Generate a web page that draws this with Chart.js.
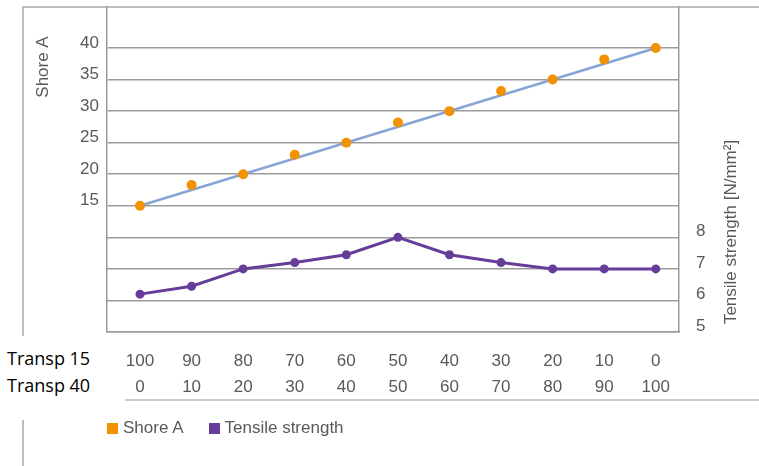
<!DOCTYPE html>
<html>
<head>
<meta charset="utf-8">
<script src="https://cdn.jsdelivr.net/npm/chart.js@4"></script>
<style>
    body { margin: 0; background: #fff; }
    #wrap { position: relative; width: 759px; height: 466px; overflow: hidden; }
    #wrap canvas { position: absolute; left: 0; top: 0; }
    .line { position: absolute; border-color: #bcbcbc; border-style: solid; border-width: 0; }
    .transp { position: absolute; left: 7px; font: 18px "Open Sans", sans-serif; line-height: 20px; color: #000; }
    #legend { position: absolute; left: 107px; top: 418px; display: flex; align-items: center;
        font: 17px "Liberation Sans", Arial, sans-serif; color: #595959; line-height: 20px; }
    #legend .item { display: flex; align-items: center; margin-right: 25px; }
    #legend .box { width: 11px; height: 11px; margin-right: 5px; }
</style>
</head>
<body>
<div id="wrap">
    <div class="line" style="left:22px; top:6px; width:737px; border-top-width:2px;"></div>
    <div class="line" style="left:22px; top:6px; height:330px; border-left-width:2px;"></div>
    <div class="line" style="left:22px; top:420px; height:46px; border-left-width:2px;"></div>
    <div class="line" style="left:125px; top:399px; width:634px; border-top-width:2px; border-color:#cacaca;"></div>
    <div class="transp" style="top:348px;">Transp 15</div>
    <div class="transp" style="top:375px;">Transp 40</div>
    <canvas id="mix-chart" width="759" height="466"></canvas>
    <div id="legend"></div>
</div>
<script>
const textColor = "#595959";
const gridColor = "#9b9b9b";
const fontFamily = '"Liberation Sans", Arial, sans-serif';

// mix ratio labels (two rows under the x axis)
const transp15 = ["100", "90", "80", "70", "60", "50", "40", "30", "20", "10", "0"];
const transp40 = ["0", "10", "20", "30", "40", "50", "60", "70", "80", "90", "100"];

const shoreA = [15, 18.3, 20, 23.1, 25, 28.2, 30, 33.2, 35, 38.2, 40];
const tensile = [6.2, 6.45, 7.0, 7.2, 7.45, 8.0, 7.45, 7.2, 7.0, 7.0, 7.0];

const shoreTicks = [15, 20, 25, 30, 35, 40];
const tensileTicks = [5, 6, 7, 8];

const orange = "#f39200";
const purple = "#663d99";
const blue = "#86a5d6";

const last = shoreA.length - 1;

// chart area is fixed by hand, so drop the label overflow padding
function noPadding(s) {
    s.paddingTop = 0;
    s.paddingBottom = 0;
    s.paddingLeft = 0;
    s.paddingRight = 0;
}

const axisTitles = {
    id: "axisTitles",
    afterDraw(chart) {
        const ctx = chart.ctx;
        ctx.save();
        ctx.fillStyle = textColor;
        ctx.font = "17px " + fontFamily;
        ctx.textAlign = "center";
        ctx.textBaseline = "middle";
        ctx.translate(43, 67);
        ctx.rotate(-Math.PI / 2);
        ctx.fillText("Shore A", 0, 0);
        ctx.restore();

        ctx.save();
        ctx.fillStyle = textColor;
        ctx.font = "17px " + fontFamily;
        ctx.textAlign = "center";
        ctx.textBaseline = "middle";
        ctx.translate(731, 232);
        ctx.rotate(-Math.PI / 2);
        ctx.fillText("Tensile strength [N/mm²]", 0, 0);
        ctx.restore();
    },
};

const chartCtx = document.getElementById("mix-chart");
const chart = new Chart(chartCtx, {
    type: "line",
    data: {
        datasets: [
            {
                label: "Shore A",
                data: shoreA.map((v, i) => ({ x: i, y: v })),
                yAxisID: "y",
                showLine: false,
                backgroundColor: orange,
                borderColor: orange,
                pointRadius: 5,
                pointBorderWidth: 0,
                order: 0,
            },
            {
                label: "trend",
                data: [
                    { x: 0, y: shoreA[0] },
                    { x: last, y: shoreA[last] },
                ],
                yAxisID: "y",
                borderColor: blue,
                borderWidth: 2.5,
                pointRadius: 0,
                order: 2,
            },
            {
                label: "Tensile strength",
                data: tensile.map((v, i) => ({ x: i, y: v })),
                yAxisID: "y1",
                borderColor: purple,
                backgroundColor: purple,
                borderWidth: 3,
                pointRadius: 4.5,
                pointBorderWidth: 0,
                tension: 0,
                order: 1,
            },
        ],
    },
    options: {
        responsive: false,
        animation: false,
        layout: { padding: { top: 7, left: 0, right: 0, bottom: 0 } },
        plugins: {
            legend: { display: false },
            tooltip: { enabled: false },
        },
        scales: {
            x: {
                type: "linear",
                min: -0.64,
                max: 10.45,
                afterBuildTicks: (s) => { s.ticks = transp15.map((_, i) => ({ value: i })); },
                afterFit: (s) => { s.height = 134; noPadding(s); },
                grid: { display: false, drawTicks: false },
                border: { display: true, color: gridColor, width: 1.5 },
                ticks: {
                    color: textColor,
                    font: { family: fontFamily, size: 17, lineHeight: 1.5 },
                    padding: 17,
                    maxRotation: 0,
                    autoSkip: false,
                    callback: (v) => [transp15[v], transp40[v]],
                },
            },
            y: {
                position: "left",
                min: -5,
                max: 46.5,
                afterBuildTicks: (s) => { s.ticks = shoreTicks.map((v) => ({ value: v })); },
                afterFit: (s) => { s.width = 107; noPadding(s); },
                grid: { color: gridColor, lineWidth: 1.5, drawTicks: false },
                border: { display: true, color: gridColor, width: 1.5 },
                ticks: {
                    color: textColor,
                    font: { family: fontFamily, size: 17 },
                    padding: 8,
                    labelOffset: -5,
                },
            },
            y1: {
                position: "right",
                min: 5,
                max: 15.3,
                afterBuildTicks: (s) => { s.ticks = tensileTicks.map((v) => ({ value: v })); },
                afterFit: (s) => { s.width = 80; noPadding(s); },
                grid: { color: gridColor, lineWidth: 1.5, drawTicks: false },
                border: { display: true, color: gridColor, width: 1.5 },
                ticks: {
                    color: textColor,
                    font: { family: fontFamily, size: 17 },
                    padding: 17,
                    labelOffset: -6,
                },
            },
        },
    },
    plugins: [axisTitles],
});

// html legend, the trend line is left out like in the original
const legendEl = document.getElementById("legend");
chart.data.datasets
    .filter((ds) => ds.label !== "trend")
    .forEach((ds) => {
        const item = document.createElement("span");
        item.className = "item";
        const box = document.createElement("span");
        box.className = "box";
        box.style.background = ds.backgroundColor;
        item.appendChild(box);
        item.appendChild(document.createTextNode(ds.label));
        legendEl.appendChild(item);
    });
</script>
</body>
</html>
